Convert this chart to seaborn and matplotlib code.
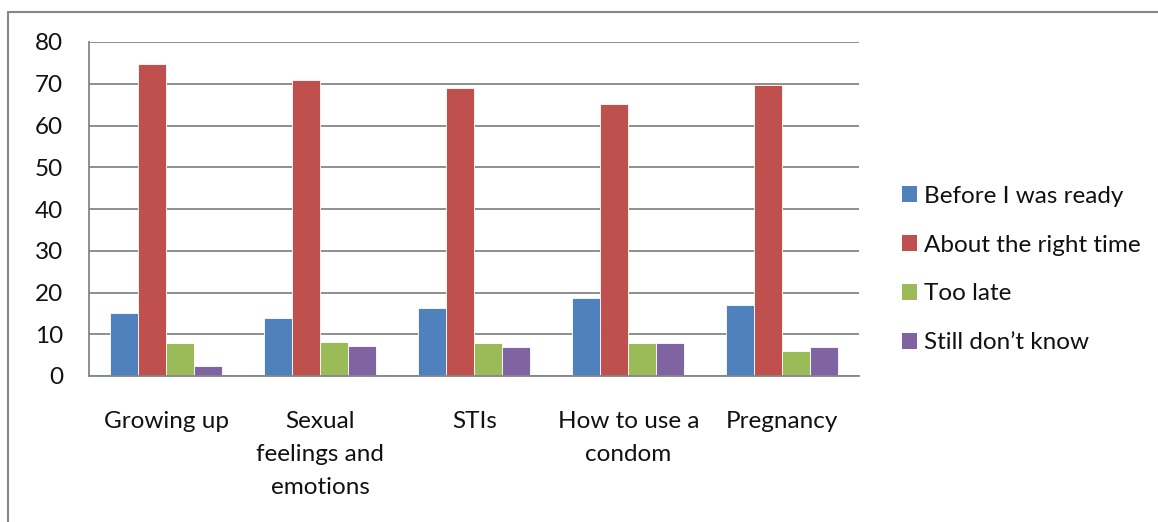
import matplotlib
matplotlib.use("Agg")
import matplotlib.pyplot as plt
from matplotlib.lines import Line2D
from matplotlib.patches import Patch
import seaborn as sns
import pandas as pd

categories = ["Growing up", "Sexual\nfeelings and\nemotions", "STIs",
              "How to use a\ncondom", "Pregnancy"]
series = ["Before I was ready", "About the right time", "Too late", "Still don\u2019t know"]
before_ready = [15.0, 14.0, 16.2, 18.7, 17.1]
right_time = [74.8, 70.9, 69.1, 65.1, 69.7]
too_late = [7.8, 8.2, 7.8, 8.0, 6.0]
still_dont_know = [2.5, 7.1, 7.0, 8.0, 7.0]
y_ticks = [0, 10, 20, 30, 40, 50, 60, 70, 80]
colors = ["#4F81BD", "#C0504D", "#9BBB59", "#8064A2"]

df = pd.DataFrame({
    "topic": categories * 4,
    "answer": [s for s in series for _ in categories],
    "value": before_ready + right_time + too_late + still_dont_know,
})

sns.set_style("white")
plt.rcParams["font.family"] = ["Lato", "DejaVu Sans"]

grid_col = "#868686"
txt_col = "#111111"
fsize = 17.5
fig = plt.figure(figsize=(11.58, 5.22), dpi=100)
ax = fig.add_axes([89.3 / 1158, 146 / 522, 770 / 1158, 334 / 522])

sns.barplot(data=df, x="topic", y="value", hue="answer", hue_order=series,
            order=categories, palette=colors, width=0.727, gap=0,
            edgecolor="white", linewidth=0.6, saturation=1, ax=ax, legend=False)

ax.set_ylim(0, 80)
ax.set_xlim(-0.5, len(categories) - 0.5)
ax.set_yticks(y_ticks)
ax.set_yticklabels([str(t) for t in y_ticks])
ax.yaxis.grid(True, color=grid_col, linewidth=1.3)
ax.set_axisbelow(True)
ax.set_xlabel("")
ax.set_ylabel("")

for side in ["top", "right"]:
    ax.spines[side].set_visible(False)
for side in ["left", "bottom"]:
    ax.spines[side].set_color(grid_col)
    ax.spines[side].set_linewidth(1.3)

# category ticks sit on the boundaries between groups
ax.set_xticks([i - 0.5 for i in range(len(categories) + 1)], minor=True)
ax.set_xticks(range(len(categories)))
ax.set_xticklabels(categories, fontsize=fsize, linespacing=1.72, va="top", color=txt_col)
ax.tick_params(axis="x", which="major", length=0, pad=25)
ax.tick_params(axis="x", which="minor", length=6, width=1.3, color=grid_col, direction="out")
ax.tick_params(axis="y", length=6, width=1.3, color=grid_col, direction="out",
               pad=13, labelsize=fsize, labelcolor=txt_col)

handles = [Patch(facecolor=c, edgecolor="none") for c in colors]
leg = fig.legend(handles, series, loc="center left", bbox_to_anchor=(892 / 1158, 252.5 / 522),
                 frameon=False, fontsize=fsize, handlelength=0.62, handleheight=0.62,
                 handletextpad=0.3, labelspacing=1.15, borderaxespad=0)
for t in leg.get_texts():
    t.set_color(txt_col)

# chart frame
fig.add_artist(Line2D([8 / 1158, 8 / 1158], [0, 1 - 12 / 522], transform=fig.transFigure,
                      color=grid_col, linewidth=1.5))
fig.add_artist(Line2D([8 / 1158, 1], [1 - 12 / 522, 1 - 12 / 522], transform=fig.transFigure,
                      color=grid_col, linewidth=1.5))

fig.savefig("out.png", dpi=100)
